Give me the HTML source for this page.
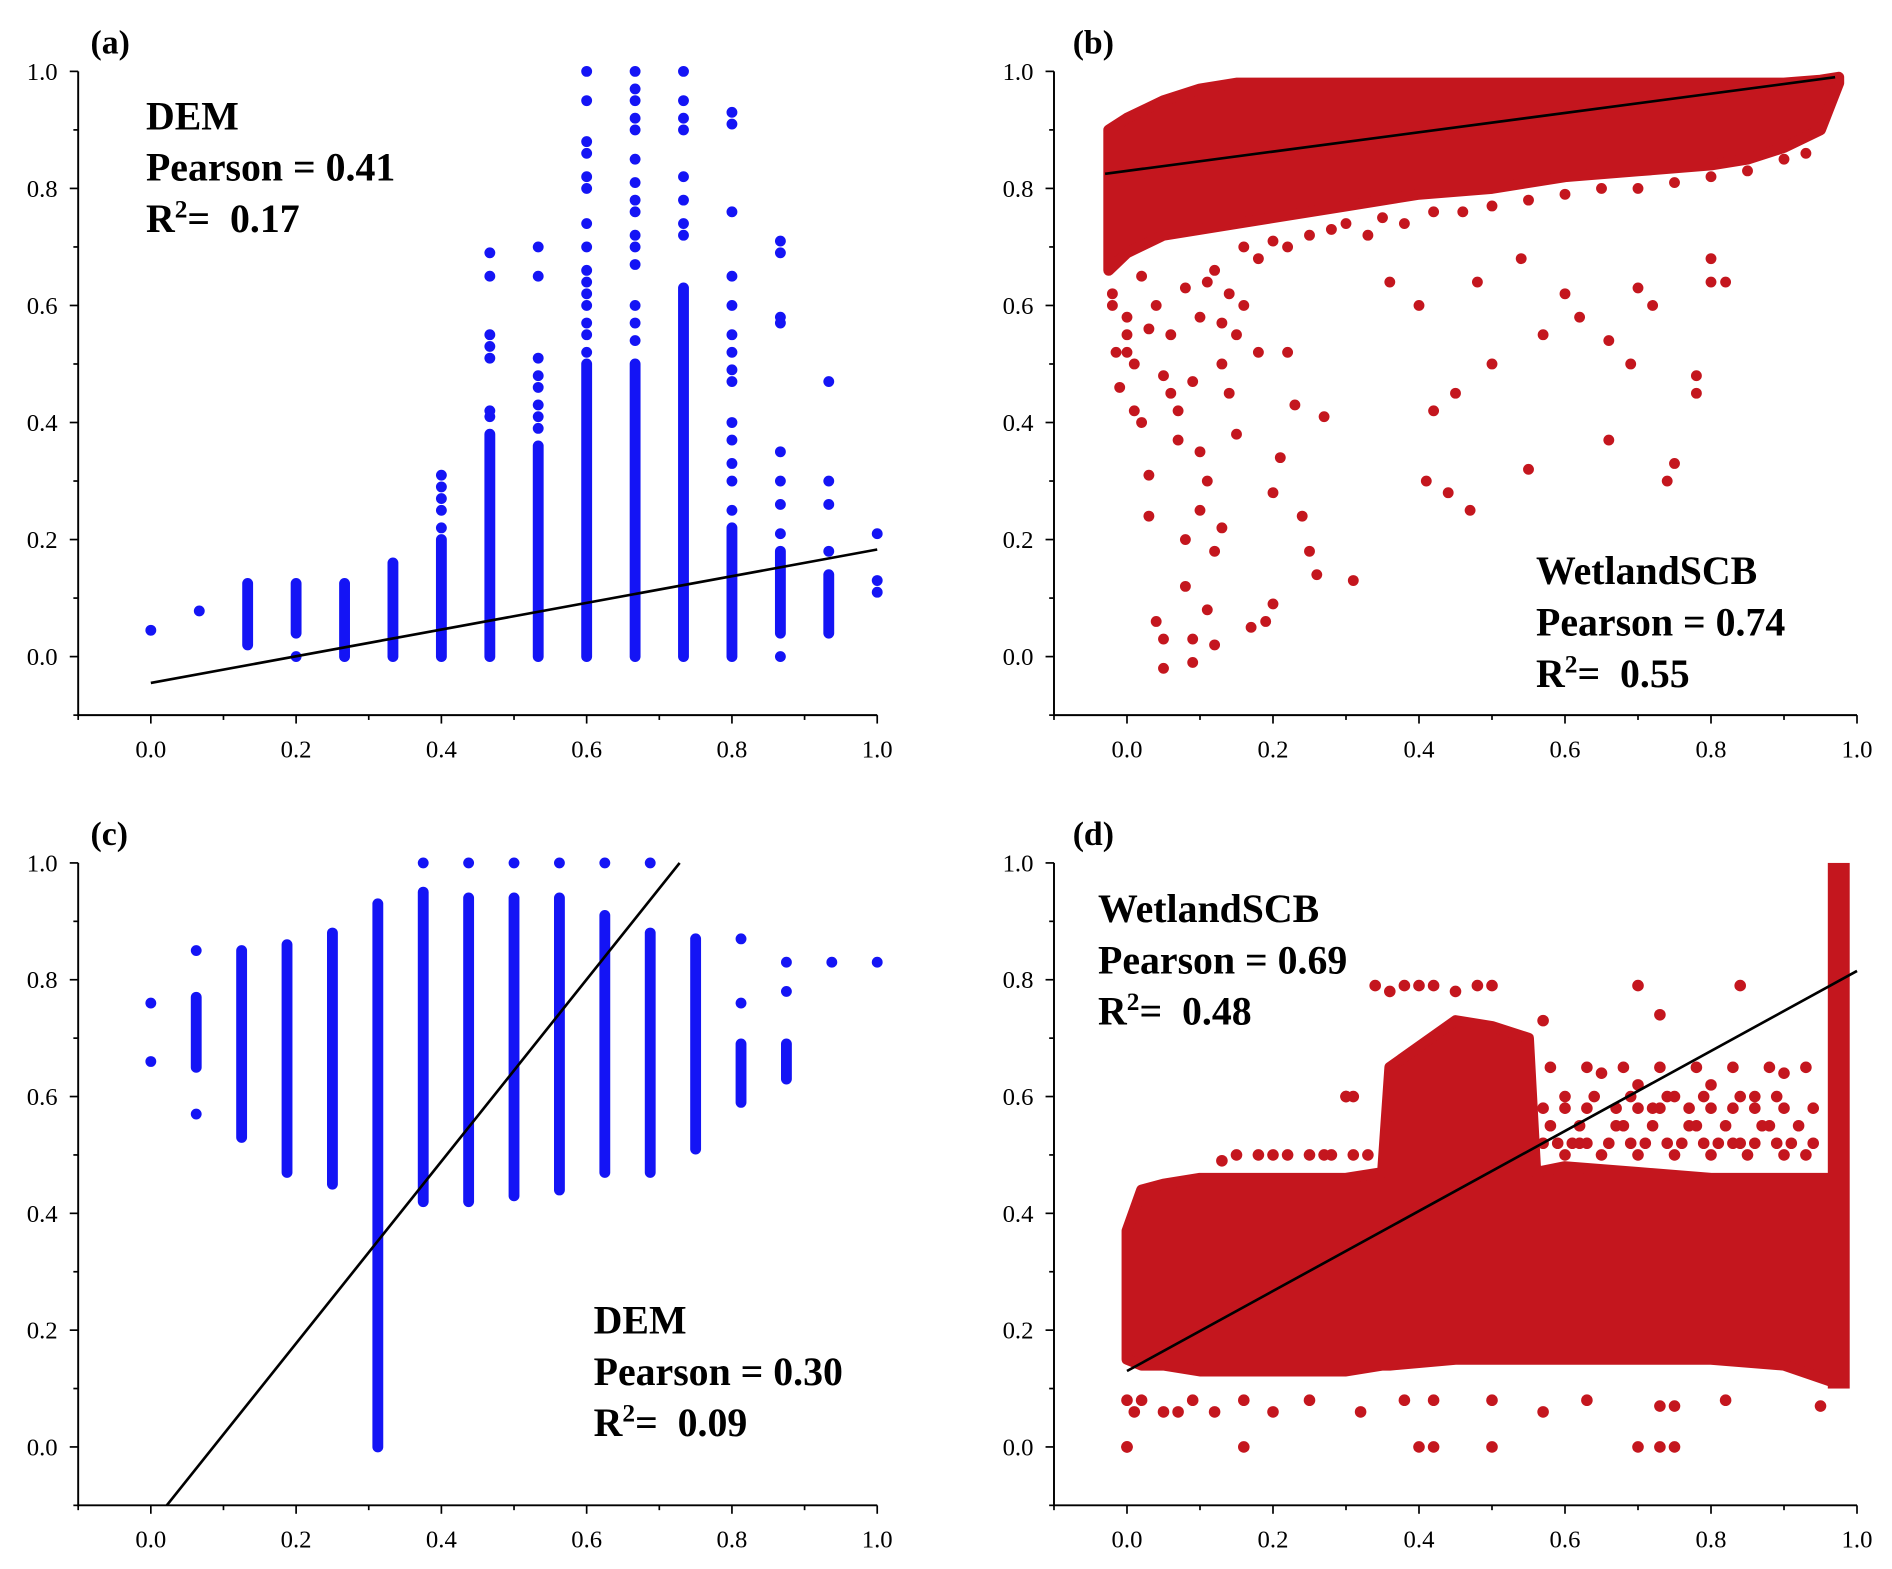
<!DOCTYPE html>
<html><head><meta charset="utf-8">
<style>
html,body{margin:0;padding:0;background:#fff}
svg{display:block}
text{font-family:"Liberation Serif",serif;fill:#000;white-space:pre}
</style></head>
<body>
<svg id="fig" xmlns="http://www.w3.org/2000/svg" width="1892" height="1569" viewBox="0 0 1568 1300">
<rect width="1568" height="1300" fill="#fff"/>
</svg>
<script>
// ---------- data ----------
const tickVals = [0.0, 0.2, 0.4, 0.6, 0.8, 1.0];
const tickLabels = ["0.0", "0.2", "0.4", "0.6", "0.8", "1.0"];

// Panel (a): columns [x, dense min, dense max]
const aColX = [0.1333, 0.2, 0.2667, 0.3333, 0.4, 0.4667, 0.5333, 0.6, 0.6667, 0.7333, 0.8, 0.8667, 0.9333];
const aColMin = [0.02, 0.04, 0.0, 0.0, 0.0, 0.0, 0.0, 0.0, 0.0, 0.0, 0.0, 0.04, 0.04];
const aColMax = [0.125, 0.125, 0.125, 0.16, 0.2, 0.38, 0.36, 0.5, 0.5, 0.63, 0.22, 0.18, 0.14];
const aPtX = [0, 0.0667, 0.2, 0.4,0.4,0.4,0.4,0.4, 0.4667,0.4667,0.4667,0.4667,0.4667,0.4667,0.4667,
  0.5333,0.5333,0.5333,0.5333,0.5333,0.5333,0.5333,0.5333,
  0.6,0.6,0.6,0.6,0.6,0.6,0.6,0.6,0.6,0.6,0.6,0.6,0.6,0.6,0.6,
  0.6667,0.6667,0.6667,0.6667,0.6667,0.6667,0.6667,0.6667,0.6667,0.6667,0.6667,0.6667,0.6667,0.6667,0.6667,
  0.7333,0.7333,0.7333,0.7333,0.7333,0.7333,0.7333,0.7333,
  0.8,0.8,0.8,0.8,0.8,0.8,0.8,0.8,0.8,0.8,0.8,0.8,0.8,0.8,
  0.8667,0.8667,0.8667,0.8667,0.8667,0.8667,0.8667,0.8667,0.8667,
  0.9333,0.9333,0.9333,0.9333, 1,1,1];
const aPtY = [0.045, 0.078, 0.0, 0.22,0.25,0.27,0.29,0.31, 0.41,0.42,0.51,0.53,0.55,0.65,0.69,
  0.39,0.41,0.43,0.46,0.48,0.51,0.65,0.70,
  0.52,0.55,0.57,0.6,0.62,0.64,0.66,0.7,0.74,0.80,0.82,0.86,0.88,0.95,1.0,
  0.54,0.57,0.6,0.67,0.7,0.72,0.76,0.78,0.81,0.85,0.9,0.92,0.95,0.97,1.0,
  0.72,0.74,0.78,0.82,0.9,0.92,0.95,1.0,
  0.25,0.3,0.33,0.37,0.4,0.47,0.49,0.52,0.55,0.6,0.65,0.76,0.91,0.93,
  0.0,0.21,0.26,0.30,0.35,0.57,0.58,0.69,0.71,
  0.18,0.26,0.30,0.47, 0.11,0.13,0.21];
const aLine = [[0, -0.045], [1, 0.183]];

// Panel (b): dense band
const bBandX = [-0.025,0,0.05,0.1,0.15,0.2,0.3,0.4,0.5,0.6,0.7,0.8,0.85,0.9,0.95,0.975];
const bBandTop = [0.90,0.92,0.95,0.97,0.98,0.98,0.98,0.98,0.98,0.98,0.98,0.98,0.98,0.98,0.985,0.99];
const bBandBot = [0.66,0.69,0.72,0.73,0.74,0.75,0.77,0.79,0.80,0.82,0.83,0.84,0.85,0.87,0.90,0.98];
const bPtX = [-0.02,-0.015,0,0.01,0.02,0.03,0.03,0.04,0.05,0.05,0.06,0.07,0.08,0.08,0.09,0.09,0.1,0.1,0.11,0.11,0.12,0.12,0.13,0.13,0.14,0.15,0.15,0.16,0.17,0.18,0.19,0.2,0.2,0.21,0.22,0.23,0.24,0.25,0.26,0.27,0.31,0.36,0.4,0.41,0.42,0.44,0.45,0.47,0.48,0.5,0.54,0.55,0.57,0.6,0.62,0.66,0.66,0.69,0.7,0.72,0.74,0.75,0.78,0.78,0.8,0.8,0.82,
  -0.02,0,0.02,0.04,0.06,0.08,0.1,0.12,0.14,0.01,0.03,0.05,0.07,0.09,0.11,0.13,0.0,-0.01,
  0.16,0.18,0.2,0.22,0.25,0.28,0.3,0.33,0.35,0.38,0.42,0.46,0.5,0.55,0.6,0.65,0.7,0.75,0.8,0.85,0.9,0.93];
const bPtY = [0.6,0.52,0.55,0.42,0.4,0.31,0.24,0.06,0.03,-0.02,0.45,0.37,0.2,0.12,0.03,-0.01,0.35,0.25,0.3,0.08,0.18,0.02,0.5,0.22,0.45,0.55,0.38,0.6,0.05,0.52,0.06,0.28,0.09,0.34,0.52,0.43,0.24,0.18,0.14,0.41,0.13,0.64,0.6,0.3,0.42,0.28,0.45,0.25,0.64,0.5,0.68,0.32,0.55,0.62,0.58,0.37,0.54,0.5,0.63,0.6,0.3,0.33,0.45,0.48,0.64,0.68,0.64,
  0.62,0.58,0.65,0.6,0.55,0.63,0.58,0.66,0.62,0.5,0.56,0.48,0.42,0.47,0.64,0.57,0.52,0.46,
  0.7,0.68,0.71,0.7,0.72,0.73,0.74,0.72,0.75,0.74,0.76,0.76,0.77,0.78,0.79,0.8,0.8,0.81,0.82,0.83,0.85,0.86];
const bLine = [[-0.03, 0.825], [0.97, 0.99]];

// Panel (c): columns
const cColX = [0.0625,0.125,0.1875,0.25,0.3125,0.375,0.4375,0.5,0.5625,0.625,0.6875,0.75,0.8125,0.875];
const cColMin = [0.65,0.53,0.47,0.45,0.0,0.42,0.42,0.43,0.44,0.47,0.47,0.51,0.59,0.63];
const cColMax = [0.77,0.85,0.86,0.88,0.93,0.95,0.94,0.94,0.94,0.91,0.88,0.87,0.69,0.69];
const cPtX = [0,0,0.0625,0.0625,0.375,0.4375,0.5,0.5625,0.625,0.6875,0.8125,0.8125,0.875,0.875,0.9375,1];
const cPtY = [0.76,0.66,0.57,0.85,1.0,1.0,1.0,1.0,1.0,1.0,0.87,0.76,0.78,0.83,0.83,0.83];
const cLine = [[0.022, -0.1], [0.728, 1.0]];

// Panel (d): dense band + right column
const dBandX = [0,0.02,0.05,0.1,0.2,0.3,0.35,0.36,0.45,0.5,0.55,0.56,0.6,0.7,0.8,0.9,0.97];
const dBandTop = [0.37,0.44,0.45,0.46,0.46,0.46,0.47,0.65,0.73,0.72,0.70,0.47,0.48,0.47,0.46,0.46,0.46];
const dBandBot = [0.15,0.14,0.14,0.13,0.13,0.13,0.14,0.14,0.15,0.15,0.15,0.15,0.15,0.15,0.15,0.14,0.11];
const dColX = [0.96, 0.99];
const dColMin = [0.10];
const dColMax = [1.0];
const dPtX = [0.0,0.01,0.02,0.05,0.07,0.09,0.12,0.16,0.2,0.25,0.32,0.38,0.42,0.5,0.57,0.63,0.73,0.75,0.82,0.95,
  0.13,0.2,0.27,0.3,0.34,0.36,0.38,0.4,0.42,0.45,0.48,0.5,0.7,0.84,0.73,0.57,
  0.58,0.6,0.62,0.65,0.68,0.7,0.72,0.75,0.78,0.8,0.83,0.86,0.88,0.9,0.93,0.6,0.65,0.7,0.75,0.8,0.85,0.9,0.62,0.67,0.72,0.77,0.82,0.87,0.92,0.64,0.69,0.74,0.79,0.84,0.89,0.58,0.63,0.68,0.73,0.78,0.83,0.88,0.93,
  0.57,0.59,0.61,0.63,0.66,0.69,0.71,0.74,0.76,0.79,0.81,0.84,0.86,0.89,0.91,0.94,
  0.57,0.6,0.63,0.67,0.7,0.73,0.77,0.8,0.83,0.86,0.9,0.94,
  0.15,0.18,0.22,0.25,0.28,0.31,0.33,0.3,0.31,
  0.0,0.0,0.16,0.4,0.42,0.5,0.7,0.73,0.75];
const dPtY = [0.08,0.06,0.08,0.06,0.06,0.08,0.06,0.08,0.06,0.08,0.06,0.08,0.08,0.08,0.06,0.08,0.07,0.07,0.08,0.07,
  0.49,0.5,0.5,0.6,0.79,0.78,0.79,0.79,0.79,0.78,0.79,0.79,0.79,0.79,0.74,0.73,
  0.55,0.6,0.52,0.64,0.55,0.62,0.58,0.6,0.55,0.62,0.52,0.6,0.55,0.64,0.5,0.5,0.5,0.5,0.5,0.5,0.5,0.5,0.55,0.55,0.55,0.55,0.55,0.55,0.55,0.6,0.6,0.6,0.6,0.6,0.6,0.65,0.65,0.65,0.65,0.65,0.65,0.65,0.65,
  0.52,0.52,0.52,0.52,0.52,0.52,0.52,0.52,0.52,0.52,0.52,0.52,0.52,0.52,0.52,0.52,
  0.58,0.58,0.58,0.58,0.58,0.58,0.58,0.58,0.58,0.58,0.58,0.58,
  0.5,0.5,0.5,0.5,0.5,0.5,0.5,0.6,0.6,
  0.0,0.0,0.0,0.0,0.0,0.0,0.0,0.0,0.0];
const dLine = [[0, 0.13], [1, 0.815]];

// ---------- drawing ----------
const NS = "http://www.w3.org/2000/svg";
const svg = document.getElementById("fig");
function mk(tag, attrs, parent) {
  const e = document.createElementNS(NS, tag);
  for (const k in attrs) e.setAttribute(k, attrs[k]);
  (parent || svg).appendChild(e);
  return e;
}
const panels = [
  {id:"a", x0:125, x1:727, y0:544, y1:59, label:"(a)", lx:75, ly:44, col:"#1414f5"},
  {id:"b", x0:934, x1:1539, y0:544, y1:59, label:"(b)", lx:889, ly:44, col:"#c4161e"},
  {id:"c", x0:125, x1:727, y0:1199, y1:715, label:"(c)", lx:75, ly:700, col:"#1414f5"},
  {id:"d", x0:934, x1:1539, y0:1199, y1:715, label:"(d)", lx:889, ly:700, col:"#c4161e"}
];
function axes(p) {
  const sx = v => p.x0 + (p.x1 - p.x0) * v;
  const sy = v => p.y0 + (p.y1 - p.y0) * v;
  const g = mk("g", {});
  
  
  const left = sx(-0.1), bottom = sy(-0.1);
  const ax = mk("path", {d:`M${left},${sy(1)} L${left},${bottom} L${sx(1)},${bottom}`, fill:"none", stroke:"#000", "stroke-width":1.6}, g);
  
  
  for (let i = -1; i <= 10; i++) {
    const v = i / 10, major = i % 2 === 0;
    const L = major ? 7 : 4;
    mk("line", {x1:left, x2:left - L, y1:sy(v), y2:sy(v), stroke:"#000", "stroke-width":1.4}, g);
    mk("line", {x1:sx(v), x2:sx(v), y1:bottom, y2:bottom + L, stroke:"#000", "stroke-width":1.4}, g);
  }
  tickVals.forEach((v, i) => {
    const ty = mk("text", {x:left - 17, y:sy(v) + 7, "text-anchor":"end", "font-size":20.5}, g);
    ty.textContent = tickLabels[i];
    
    
    const tx = mk("text", {x:sx(v), y:bottom + 35, "text-anchor":"middle", "font-size":20.5}, g);
    tx.textContent = tickLabels[i];
    
    
  });
  const lb = mk("text", {x:p.lx, y:p.ly, "font-size":28, "font-weight":"bold"}, g);
  lb.textContent = p.label;
  
  
  return {sx, sy, g};
}
function dots(A, xs, ys, col, r) {
  const g = mk("g", {fill:col}, A.g);
  
  
  xs.forEach((x, i) => {
    const c = mk("circle", {cx:A.sx(x), cy:A.sy(ys[i]), r:r}, g);
    
    
  });
}
function columns(A, xs, mins, maxs, col, w) {
  xs.forEach((x, i) => {
    if (mins[i] === undefined) return;
    const l = mk("line", {x1:A.sx(x), x2:A.sx(x), y1:A.sy(mins[i]), y2:A.sy(maxs[i]), stroke:col, "stroke-width":w, "stroke-linecap":"round"}, A.g);
    
    
  });
}
function band(A, xs, tops, bots, col) {
  let d = "";
  xs.forEach((x, i) => { d += (i ? "L" : "M") + A.sx(x) + "," + A.sy(tops[i]); });
  for (let i = xs.length - 1; i >= 0; i--) d += "L" + A.sx(xs[i]) + "," + A.sy(bots[i]);
  const p = mk("path", {d:d + "Z", fill:col, stroke:col, "stroke-width":9, "stroke-linejoin":"round"}, A.g);
  
  
}
function fitLine(A, L) {
  const l = mk("line", {x1:A.sx(L[0][0]), y1:A.sy(L[0][1]), x2:A.sx(L[1][0]), y2:A.sy(L[1][1]), stroke:"#000", "stroke-width":2.2}, A.g);
  
  
}
function note(A, x, y, lines) {
  lines.forEach((t, i) => {
    const e = mk("text", {x:x, y:y + i * 42.5, "font-size":33, "font-weight":"bold"}, A.g);
    if (t[0] === "R") {
      e.innerHTML = 'R<tspan font-size="21" dy="-12">2</tspan><tspan dy="12">' + t.slice(1) + '</tspan>';
      
    } else {
      e.textContent = t;
      
    }
    
  });
}

let A = axes(panels[0]);
columns(A, aColX, aColMin, aColMax, panels[0].col, 9);
dots(A, aPtX, aPtY, panels[0].col, 4.5);
fitLine(A, aLine);
note(A, 121, 107, ["DEM", "Pearson = 0.41", "R=\u00a0 0.17"]);

A = axes(panels[1]);
band(A, bBandX, bBandTop, bBandBot, panels[1].col);
dots(A, bPtX, bPtY, panels[1].col, 4.5);
fitLine(A, bLine);
note(A, 1273, 484, ["WetlandSCB", "Pearson = 0.74", "R=\u00a0 0.55"]);

A = axes(panels[2]);
columns(A, cColX, cColMin, cColMax, panels[2].col, 9);
dots(A, cPtX, cPtY, panels[2].col, 4.5);
fitLine(A, cLine);
note(A, 492, 1105, ["DEM", "Pearson = 0.30", "R=\u00a0 0.09"]);

A = axes(panels[3]);
band(A, dBandX, dBandTop, dBandBot, panels[3].col);
const dr = mk("rect", {x:A.sx(dColX[0]), y:A.sy(dColMax[0]), width:A.sx(dColX[1]) - A.sx(dColX[0]), height:A.sy(dColMin[0]) - A.sy(dColMax[0]), fill:panels[3].col}, A.g);


dots(A, dPtX, dPtY, panels[3].col, 4.8);
fitLine(A, dLine);
note(A, 910, 764, ["WetlandSCB", "Pearson = 0.69", "R=\u00a0 0.48"]);
</script>
</body></html>
